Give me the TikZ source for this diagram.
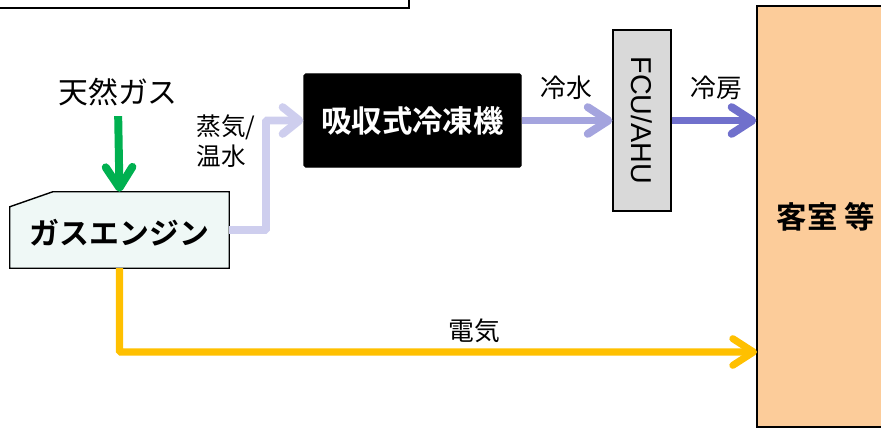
\documentclass[tikz,border=0pt]{standalone}
\usepackage{fontspec}
\setmainfont{Liberation Sans}
\newfontfamily\jpfont{Noto Sans CJK JP}
\newfontfamily\jpbold{Noto Sans CJK JP Bold}
\usepackage{tikz}
\usetikzlibrary{arrows.meta,positioning,calc}

\definecolor{gasgreen}{RGB}{0,176,80}
\definecolor{elecyellow}{RGB}{255,192,0}
\definecolor{steamlav}{RGB}{206,206,238}
\definecolor{coldlav}{RGB}{164,164,222}
\definecolor{coolblue}{RGB}{112,112,204}
\definecolor{enginefill}{RGB}{239,248,246}
\definecolor{fcugray}{RGB}{217,217,217}
\definecolor{roomfill}{RGB}{252,204,154}

\begin{document}
\begin{tikzpicture}[x=0.03cm, y=-0.03cm,
		flow/.style={line width=6.8pt, -{Straight Barb[round,length=0.62cm,width=0.8cm]}},
		label/.style={font=\jpfont\fontsize{21}{26}\selectfont, align=left, inner sep=0pt},
		box/.style={draw=black, line width=1.2pt, inner sep=0pt}]
		\useasboundingbox (0,0) rectangle (881,429);

		% top frame (cut off)
		\draw[line width=1.3pt] (-5,-10) rectangle (409,8);

		\node[label, font=\jpfont\fontsize{25.5}{30}\selectfont] (gas) at (118,92) {天然ガス};
		\node[inner sep=0pt, minimum width=6.57cm, minimum height=2.28cm] (engine) at (119.5,230) {};
		\draw[line width=1.2pt, fill=enginefill] (engine.south west) -- (engine.south east)
			-- (engine.north east) -- ([xshift=1.29cm]engine.north west)
			-- ([yshift=-0.45cm]engine.north west) -- cycle;
		\node[font=\jpbold\fontsize{25.5}{30}\selectfont] (enginetxt) at ([yshift=-2pt]engine.center) {ガスエンジン};
		\node[box, fill=black, rounded corners=1.5pt, minimum width=6.51cm, minimum height=2.79cm,
			text=white, font=\jpbold\fontsize{26}{30}\selectfont] (chiller) at (412.5,120.5) {吸収式冷凍機};
		\node[box, line width=1pt, fill=fcugray, minimum width=1.74cm, minimum height=5.43cm,
			font=\fontsize{24.5}{28}\selectfont] (fcu) at (642,120.5) {\rotatebox{-90}{FCU/AHU}};
		\node[box, fill=roomfill, minimum width=4.14cm, minimum height=12.63cm,
			font=\jpbold\fontsize{26}{30}\selectfont] (room) at (826,216.5) {客室 等};
		\coordinate (elecin) at (757,352);

		\draw[flow, gasgreen, shorten <=0.3cm] (gas.south) -- (engine.north);
		\draw[flow, steamlav, -{Straight Barb[round,length=0.5cm,width=0.8cm]}, rounded corners=1pt] (engine.east) -| (266,120.5) -- (chiller.west);
		\draw[flow, coldlav] (chiller.east) -- (fcu.west);
		\draw[flow, coolblue] (fcu.east) -- (room.west |- fcu.east);
		\draw[flow, elecyellow, line width=6pt, rounded corners=1pt] (engine.south) |- (elecin);

		\node[label] (steam) at (226,141) {蒸気/\\温水};
		\node[label, font=\jpfont\fontsize{22}{26}\selectfont] (cold) at (566,88) {冷水};
		\node[label, font=\jpfont\fontsize{22}{26}\selectfont] (cool) at (716,88) {冷房};
		\node[label, font=\jpfont\fontsize{22}{26}\selectfont] (elec) at (474,331) {電気};
	\end{tikzpicture}
\end{document}
